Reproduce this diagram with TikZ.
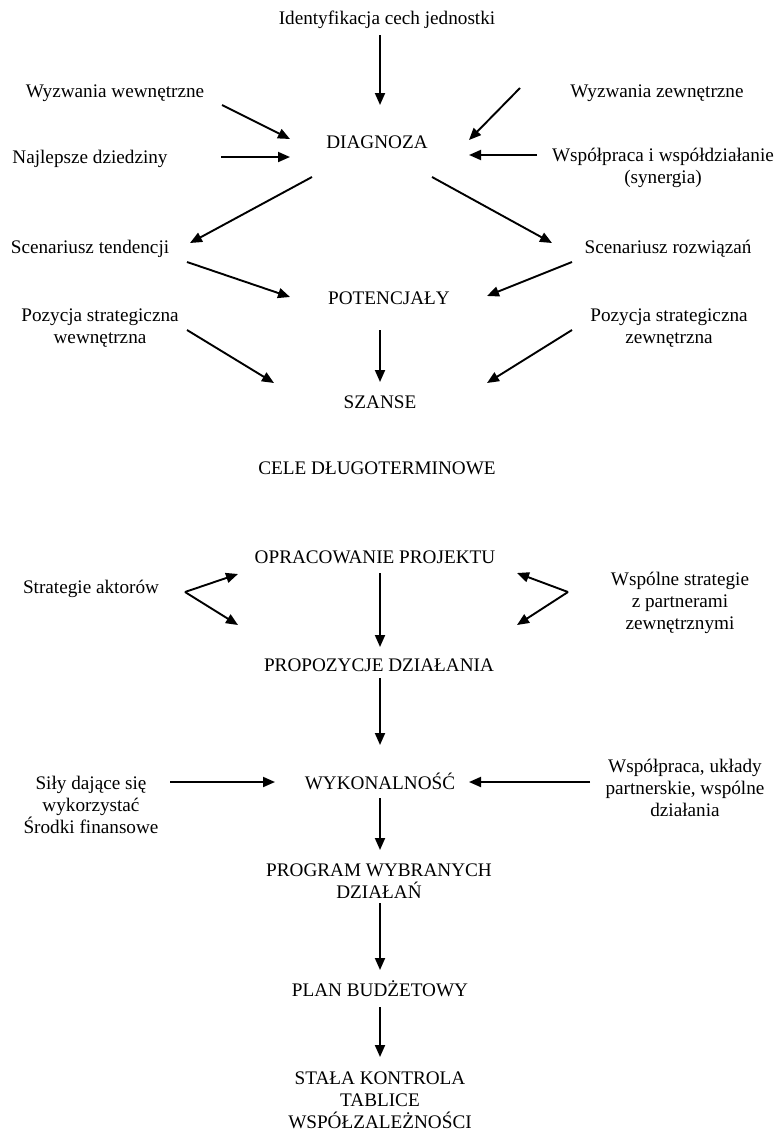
\documentclass[tikz,border=0pt]{standalone}
\usepackage{fontspec}
\setmainfont{Liberation Serif}
\usepackage{tikz}
\usetikzlibrary{arrows.meta}
\tikzset{
  lbl/.style={inner sep=0pt,text height=7.4pt,text depth=1pt,
    font=\fontsize{9.6}{11}\selectfont},
  mlbl/.style={inner sep=0pt,align=center,font=\fontsize{9.6}{11}\selectfont},
  arr/.style={-{Triangle[length=6pt,width=5pt]},line width=0.95pt}
}

\begin{document}
\begin{tikzpicture}[x=0.5pt,y=-0.5pt]
  \useasboundingbox (0,0) rectangle (778,1130);

  % Diagnosis
  \node[lbl] (idf) at (387,18) {Identyfikacja cech jednostki};
  \node[lbl] (wwew) at (115,91) {Wyzwania wewnętrzne};
  \node[lbl] (wzew) at (657,91) {Wyzwania zewnętrzne};
  \node[lbl] (diag) at (377,142) {DIAGNOZA};
  \node[lbl] (najl) at (90,157) {Najlepsze dziedziny};
  \node[mlbl] (wspol) at (663,168) {Współpraca i współdziałanie\\(synergia)};

  \draw[arr] ([shift={(-7,17)}]idf.center) -- ([shift={(3,-37)}]diag.center);
  \draw[arr] ([shift={(107,14)}]wwew.center) -- ([shift={(-87,-3)}]diag.center);
  \draw[arr] ([shift={(131,0)}]najl.center) -- ([shift={(-87,15)}]diag.center);
  \draw[arr] ([shift={(-137,-3)}]wzew.center) -- ([shift={(92,-2)}]diag.center);
  \draw[arr] ([shift={(-126,-13)}]wspol.center) -- ([shift={(92,13)}]diag.center);

  % Potentials and chances
  \node[lbl] (sctend) at (90,247) {Scenariusz tendencji};
  \node[lbl] (scrozw) at (668,247) {Scenariusz rozwiązań};
  \node[lbl] (pot) at (389,298) {POTENCJAŁY};
  \node[mlbl] (pozw) at (100,328) {Pozycja strategiczna\\wewnętrzna};
  \node[mlbl] (pozz) at (669,328) {Pozycja strategiczna\\zewnętrzna};
  \node[lbl] (szanse) at (380,402) {SZANSE};
  \node[lbl] (cele) at (377,468) {CELE DŁUGOTERMINOWE};

  \draw[arr] ([shift={(-65,35)}]diag.center) -- ([shift={(100,-4)}]sctend.center);
  \draw[arr] ([shift={(55,35)}]diag.center) -- ([shift={(-116,-4)}]scrozw.center);
  \draw[arr] ([shift={(97,15)}]sctend.center) -- ([shift={(-99,-1)}]pot.center);
  \draw[arr] ([shift={(-96,15)}]scrozw.center) -- ([shift={(98,-2)}]pot.center);
  \draw[arr] ([shift={(-9,32)}]pot.center) -- ([shift={(0,-20)}]szanse.center);
  \draw[arr] ([shift={(87,2)}]pozw.center) -- ([shift={(-106,-19)}]szanse.center);
  \draw[arr] ([shift={(-97,2)}]pozz.center) -- ([shift={(107,-19)}]szanse.center);

  % Project
  \node[lbl] (opr) at (375,557) {OPRACOWANIE PROJEKTU};
  \node[lbl] (stak) at (91,587) {Strategie aktorów};
  \node[mlbl] (wsst) at (680,603) {Wspólne strategie\\z partnerami\\zewnętrznymi};
  \node[lbl] (prop) at (379,665) {PROPOZYCJE DZIAŁANIA};

  \draw[arr] ([shift={(5,16)}]opr.center) -- ([shift={(1,-18)}]prop.center);
  \draw[arr] ([shift={(94,5)}]stak.center) -- ([shift={(-137,17)}]opr.center);
  \draw[arr] ([shift={(94,5)}]stak.center) -- ([shift={(-141,-40)}]prop.center);
  \draw[arr] ([shift={(-112,-11)}]wsst.center) -- ([shift={(142,16)}]opr.center);
  \draw[arr] ([shift={(-112,-11)}]wsst.center) -- ([shift={(138,-40)}]prop.center);

  % Feasibility and programme
  \node[lbl] (wyk) at (380,783) {WYKONALNOŚĆ};
  \node[mlbl] (sily) at (91,805) {Siły dające się\\wykorzystać\\Środki finansowe};
  \node[mlbl] (wspu) at (685,788) {Współpraca, układy\\partnerskie, wspólne\\działania};
  \node[mlbl] (prog) at (379,881) {PROGRAM WYBRANYCH\\DZIAŁAŃ};
  \node[lbl] (plan) at (380,990) {PLAN BUDŻETOWY};
  \node[mlbl] (stala) at (380,1100) {STAŁA KONTROLA\\TABLICE\\WSPÓŁZALEŻNOŚCI};

  \draw[arr] ([shift={(1,13)}]prop.center) -- ([shift={(0,-38)}]wyk.center);
  \draw[arr] ([shift={(79,-23)}]sily.center) -- ([shift={(-105,-1)}]wyk.center);
  \draw[arr] ([shift={(-95,-6)}]wspu.center) -- ([shift={(89,-1)}]wyk.center);
  \draw[arr] ([shift={(0,15)}]wyk.center) -- ([shift={(1,-31)}]prog.center);
  \draw[arr] ([shift={(1,22)}]prog.center) -- ([shift={(0,-20)}]plan.center);
  \draw[arr] ([shift={(0,17)}]plan.center) -- ([shift={(0,-43)}]stala.center);
\end{tikzpicture}
\end{document}
